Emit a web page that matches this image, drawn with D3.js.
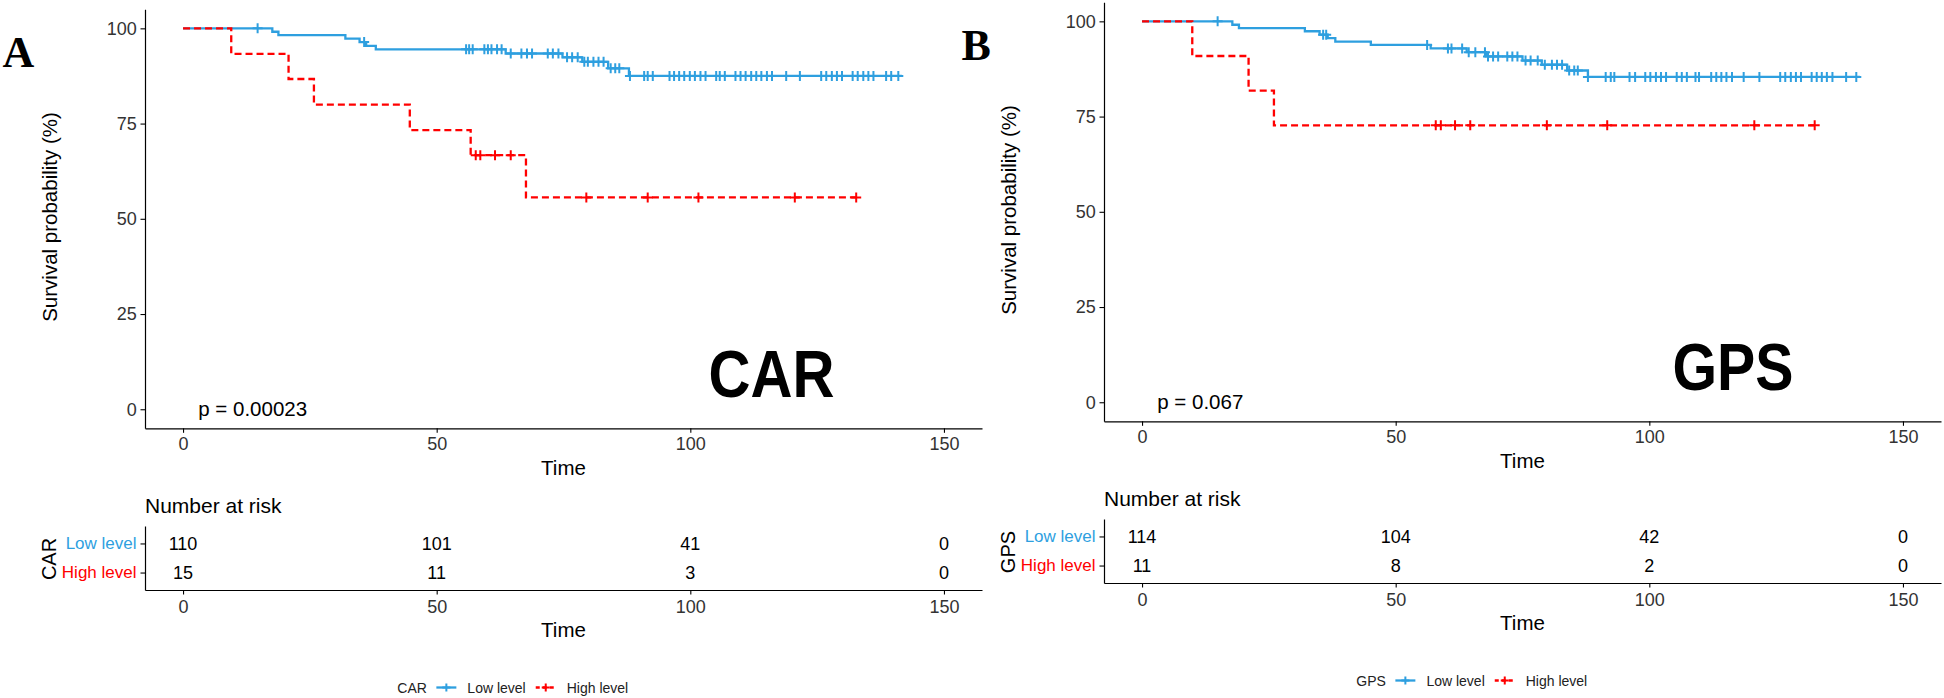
<!DOCTYPE html>
<html>
<head>
<meta charset="utf-8">
<script src="https://cdn.jsdelivr.net/npm/d3@7.9.0/dist/d3.min.js"></script>
<style>
  html, body { margin: 0; padding: 0; background: #fff; }
  svg { display: block; font-family: "Liberation Sans", Arial, sans-serif; }
</style>
</head>
<body>
<svg id="chart" width="1944" height="698"></svg>
<script>
// ---------- Data ----------
const timeTicks = [0, 50, 100, 150];
const survTicks = [0, 25, 50, 75, 100];
const levels = ['Low level', 'High level'];
const levelColors = ['#2E9FDF', '#FF0000'];

// Panel A: CAR  -- steps are [time, survival %]
const carLowSteps = [[0, 100], [17.6, 99.1], [18.8, 98.2], [32, 97.3], [34.8, 96.4], [36.1, 95.4],
  [38, 94.5], [63.6, 93.4], [74.8, 92.4], [78.7, 91.2], [83.8, 89.5], [87.9, 87.5]];
const carLowEnd = 141.7;
const carLowCensor = [14.7, 35.7, 55.8, 56.4, 57.1, 59.4, 60.1, 60.8, 61.9, 62.8, 64.6, 66.7, 67.8,
  68.8, 71.9, 72.9, 74, 75.7, 76.7, 77.8, 79.1, 79.8, 80.9, 81.9, 82.9, 84.3, 85.2, 86, 88.1, 90.9,
  91.6, 92.6, 95.9, 96.8, 97.8, 98.8, 99.9, 100.9, 102, 103, 105.1, 105.8, 106.8, 108.9, 109.9,
  110.9, 112, 113, 114, 115.1, 116.1, 118.9, 121.6, 125.8, 126.8, 127.9, 128.9, 129.9, 132, 133,
  134.1, 135.1, 136.1, 138.6, 139.6, 141];
const carHighSteps = [[0, 100], [9.5, 93.3], [20.8, 86.7], [25.8, 80], [44.7, 73.3], [56.7, 66.7], [67.6, 55.6]];
const carHighEnd = 133;
const carHighCensor = [57.7, 58.6, 61.5, 64.6, 79.5, 91.6, 101.6, 120.6, 132.7];
const carRiskLow = [110, 101, 41, 0];
const carRiskHigh = [15, 11, 3, 0];

// Panel B: GPS
const gpsLowSteps = [[0, 100], [17.8, 99.1], [19.1, 98.2], [32.1, 97.4], [35, 96.5], [36.6, 95.6],
  [38.1, 94.7], [45.1, 93.8], [56.9, 92.9], [64, 91.9], [67.8, 90.8], [75, 89.7], [78.8, 88.6],
  [83.8, 87.1], [87.9, 85.4]];
const gpsLowEnd = 141.5;
const gpsLowCensor = [14.9, 35.7, 36.3, 56.2, 60.3, 61, 63.1, 64.4, 65.7, 67.6, 68.2, 69.2, 70.2, 72,
  73, 74, 75.6, 76.6, 78, 79.4, 80.8, 81.8, 82.8, 84.2, 85.2, 85.9, 87.9, 91.4, 92.4, 93.1, 96.1,
  97.2, 99.2, 100.2, 101.3, 102.3, 103.3, 105.4, 106.4, 107.4, 109.1, 109.8, 112.2, 113.2, 114.2,
  115.2, 116.3, 118.6, 121.7, 125.8, 126.8, 127.9, 128.9, 129.9, 132, 133, 134, 135, 136.1, 138.8, 140.8];
const gpsHighSteps = [[0, 100], [9.9, 90.9], [21, 81.8], [26, 72.7]];
const gpsHighEnd = 132.8;
const gpsHighCensor = [57.9, 58.9, 61.7, 64.7, 79.8, 91.7, 120.7, 132.6];
const gpsRiskLow = [114, 104, 42, 0];
const gpsRiskHigh = [11, 8, 2, 0];

const panels = [
  { tag: 'A', name: 'CAR', pval: 'p = 0.00023', dx: 0, dy: 0, labelT: 116, labelW: 126,
    curves: [
      { steps: carLowSteps, end: carLowEnd, censor: carLowCensor },
      { steps: carHighSteps, end: carHighEnd, censor: carHighCensor }],
    risk: [carRiskLow, carRiskHigh] },
  { tag: 'B', name: 'GPS', pval: 'p = 0.067', dx: 959, dy: -7, labelT: 116.5, labelW: 121,
    curves: [
      { steps: gpsLowSteps, end: gpsLowEnd, censor: gpsLowCensor },
      { steps: gpsHighSteps, end: gpsHighEnd, censor: gpsHighCensor }],
    risk: [gpsRiskLow, gpsRiskHigh] },
];

// ---------- Helpers ----------
const survAt = (steps, t) => {
  let s = steps[0][1];
  for (const [ti, si] of steps) if (ti <= t) s = si;
  return s;
};
const crossPath = 'M-5,0H5M0,-5V5';

function styleAxis(g, size, color) {
  g.select('.domain').attr('stroke', '#000').attr('stroke-width', 1.2);
  g.selectAll('.tick line').attr('stroke', '#000').attr('stroke-width', 1.1);
  g.selectAll('.tick text').attr('font-size', size).attr('fill', color)
    .attr('font-family', '"Liberation Sans", Arial, sans-serif');
}

function drawPanel(p) {
  const g = d3.select('#chart').append('g').attr('transform', `translate(${p.dx},${p.dy})`);

  const x = d3.scaleLinear().domain([-7.5, 157.5]).range([145, 982]);
  const y = d3.scaleLinear().domain([-5, 105]).range([428.3, 9.3]);

  // axes
  g.append('g').attr('transform', `translate(0,${y.range()[0]})`)
    .call(d3.axisBottom(x).tickValues(timeTicks).tickSize(4.5).tickSizeOuter(0).tickPadding(4.5))
    .call(ax => styleAxis(ax, 18, '#333'));
  g.append('g').attr('transform', `translate(${x.range()[0]},0)`)
    .call(d3.axisLeft(y).tickValues(survTicks).tickSize(4.5).tickSizeOuter(0).tickPadding(3.8))
    .call(ax => styleAxis(ax, 18, '#333'));

  g.append('text').attr('x', (x.range()[0] + x.range()[1]) / 2).attr('y', 475)
    .attr('text-anchor', 'middle').attr('font-size', 20.5).text('Time');
  g.append('text').attr('transform', `translate(50,217) rotate(-90)`)
    .attr('text-anchor', 'middle').attr('dy', '0.35em').attr('font-size', 20.5)
    .text('Survival probability (%)');

  // curves
  const line = d3.line().x(d => x(d[0])).y(d => y(d[1])).curve(d3.curveStepAfter);
  p.curves.forEach((c, i) => {
    const pts = c.steps.concat([[c.end, c.steps[c.steps.length - 1][1]]]);
    g.append('path').datum(pts).attr('d', line)
      .attr('fill', 'none').attr('stroke', levelColors[i]).attr('stroke-width', 2.3)
      .attr('stroke-dasharray', i === 1 ? '7,4' : null);
    g.append('g').selectAll('path').data(c.censor).join('path')
      .attr('d', crossPath)
      .attr('transform', t => `translate(${x(t)},${y(survAt(c.steps, t))})`)
      .attr('stroke', levelColors[i]).attr('stroke-width', 2).attr('fill', 'none');
  });

  // p-value and big label
  g.append('text').attr('x', x(3)).attr('y', y(0)).attr('dy', '0.35em')
    .attr('font-size', 20.5).text(p.pval);
  g.append('text').attr('x', x(p.labelT)).attr('y', y(3.3))
    .attr('text-anchor', 'middle').attr('font-size', 66).attr('font-weight', 'bold')
    .attr('textLength', p.labelW).attr('lengthAdjust', 'spacingAndGlyphs')
    .text(p.name);

  // panel tag
  g.append('text').attr('x', 2.5).attr('y', 66.7)
    .attr('font-family', '"Liberation Serif", "Times New Roman", serif')
    .attr('font-weight', 'bold').attr('font-size', 44).text(p.tag);

  // ---------- Risk table ----------
  const ry = d3.scalePoint().domain(levels).range([526, 590]).padding(0.6);
  g.append('text').attr('x', 145).attr('y', 513.3).attr('font-size', 21).text('Number at risk');

  g.append('g').attr('transform', 'translate(0,590)')
    .call(d3.axisBottom(x).tickValues(timeTicks).tickSize(4.5).tickSizeOuter(0).tickPadding(5.5))
    .call(ax => styleAxis(ax, 18, '#333'));
  const yAx = g.append('g').attr('transform', 'translate(145,0)')
    .call(d3.axisLeft(ry).tickSize(4.5).tickSizeOuter(0).tickPadding(4))
    .call(ax => styleAxis(ax, 17, '#000'));
  yAx.selectAll('.tick text').attr('fill', (d, i) => levelColors[levels.indexOf(d)]);

  g.append('text').attr('x', (x.range()[0] + x.range()[1]) / 2).attr('y', 636.7)
    .attr('text-anchor', 'middle').attr('font-size', 20.5).text('Time');
  g.append('text').attr('transform', `translate(48.5,559) rotate(-90)`)
    .attr('text-anchor', 'middle').attr('dy', '0.35em').attr('font-size', 20).text(p.name);

  p.risk.forEach((row, i) => {
    g.append('g').selectAll('text').data(row).join('text')
      .attr('x', (d, j) => x(timeTicks[j])).attr('y', ry(levels[i])).attr('dy', '0.35em')
      .attr('text-anchor', 'middle').attr('font-size', 18).text(d => d);
  });

  // ---------- Legend ----------
  const lg = g.append('g').attr('transform', 'translate(397.3,692.5)').attr('font-size', 14).attr('fill', '#222');
  let cx = 0;
  const title = lg.append('text').attr('x', cx).text(p.name);
  cx += title.node().getComputedTextLength() + 9.5;
  levels.forEach((lev, i) => {
    const key = lg.append('g').attr('transform', `translate(${cx},-5)`);
    key.append('line').attr('x1', 0).attr('x2', 20)
      .attr('stroke', levelColors[i]).attr('stroke-width', 2.3)
      .attr('stroke-dasharray', i === 1 ? '4,3' : null);
    key.append('path').attr('d', 'M6,0H14M10,-4V4').attr('stroke', levelColors[i]).attr('stroke-width', 2);
    cx += 20 + 11;
    const t = lg.append('text').attr('x', cx).text(lev);
    cx += t.node().getComputedTextLength() + 10;
  });
}

panels.forEach(drawPanel);
</script>
</body>
</html>
